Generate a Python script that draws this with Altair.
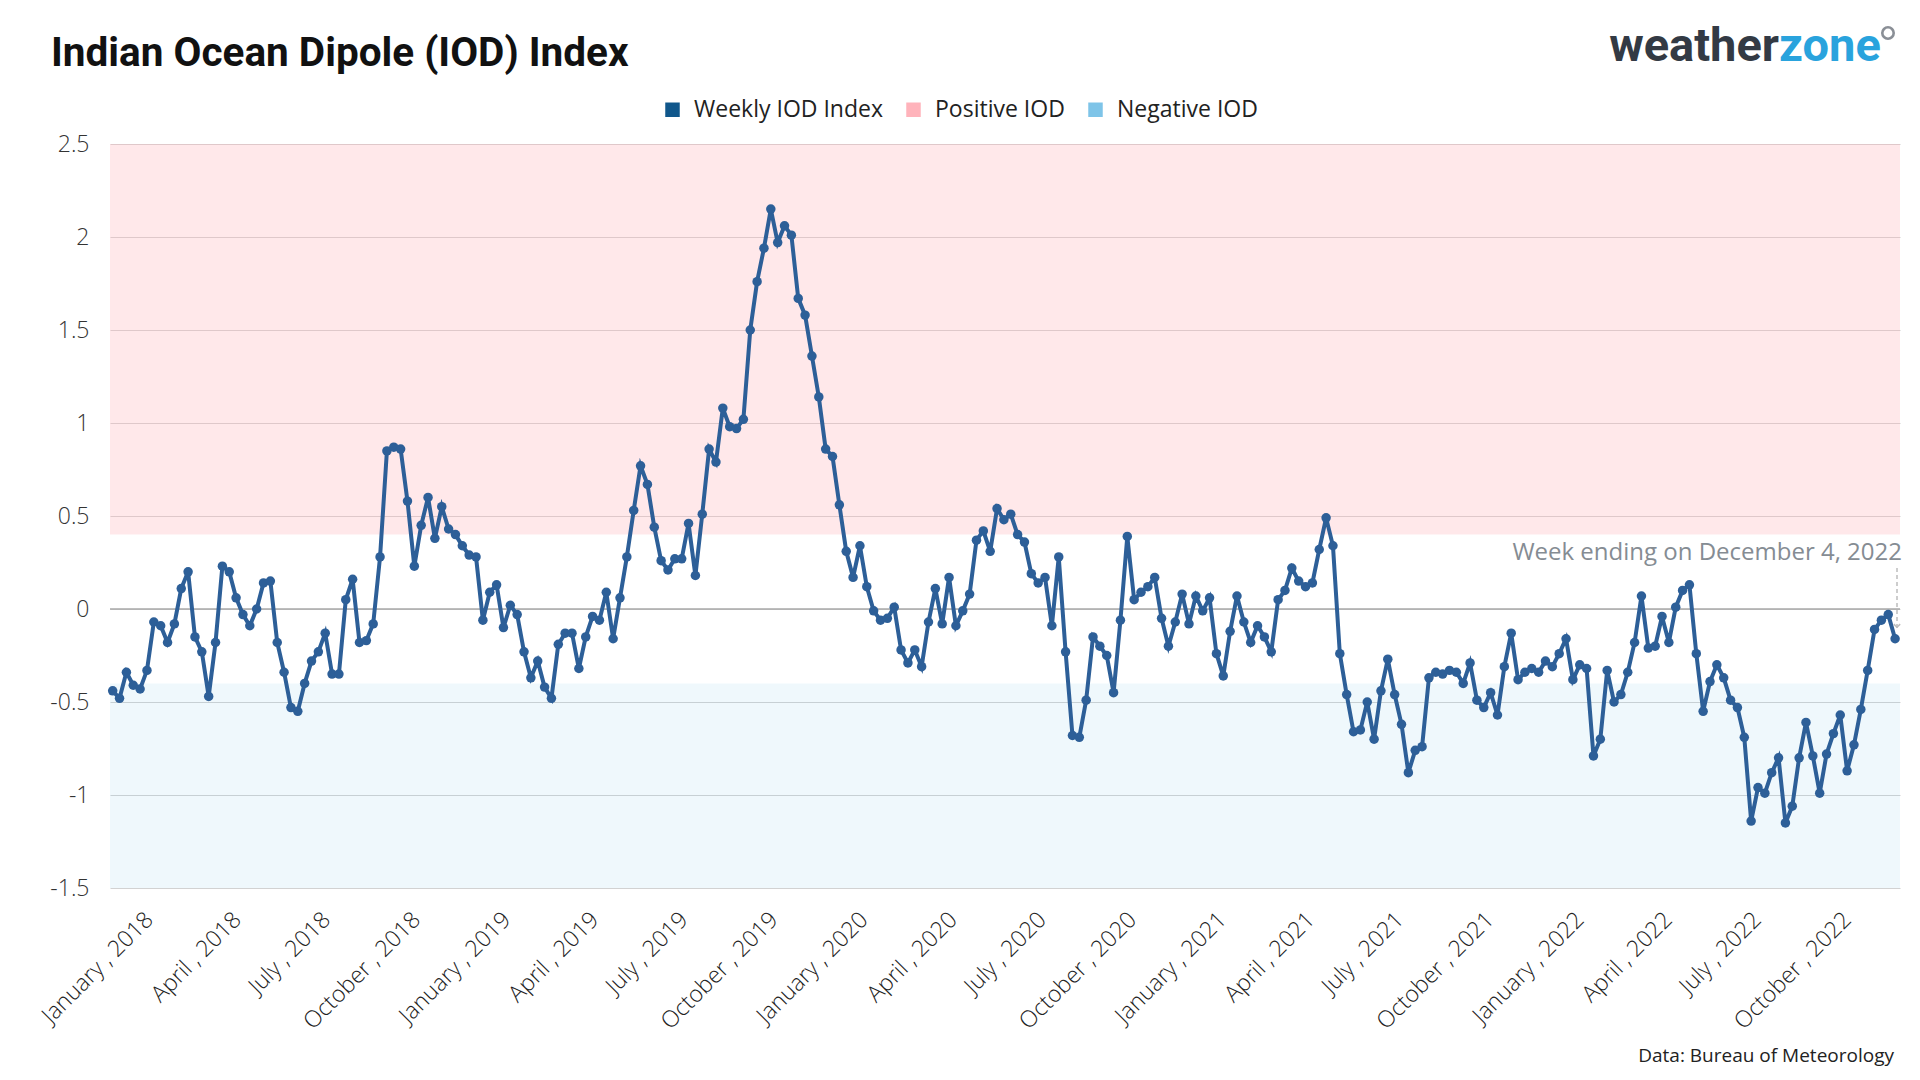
import altair as alt
import pandas as pd

# ---------------- data ----------------
FIRST_WEEK_ENDING = "2017-12-10"
iod_values = [
    -0.44, -0.48, -0.34, -0.41, -0.43, -0.33, -0.07, -0.09, -0.18, -0.08,
    0.11, 0.20, -0.15, -0.23, -0.47, -0.18, 0.23, 0.20, 0.06, -0.03,
    -0.09, 0.00, 0.14, 0.15, -0.18, -0.34, -0.53, -0.55, -0.40, -0.28,
    -0.23, -0.13, -0.35, -0.35, 0.05, 0.16, -0.18, -0.17, -0.08, 0.28,
    0.85, 0.87, 0.86, 0.58,
    0.23, 0.45, 0.60, 0.38, 0.55, 0.43, 0.40, 0.34, 0.29, 0.28,
    -0.06, 0.09, 0.13, -0.10, 0.02, -0.03, -0.23, -0.37, -0.28, -0.42,
    -0.48, -0.19, -0.13, -0.13, -0.32, -0.15, -0.04, -0.06, 0.09, -0.16,
    0.06, 0.28, 0.53, 0.77, 0.67, 0.44, 0.26, 0.21, 0.27, 0.27,
    0.46,
    0.18, 0.51, 0.86, 0.79, 1.08, 0.98, 0.97, 1.02, 1.50, 1.76,
    1.94, 2.15, 1.97, 2.06, 2.01, 1.67, 1.58, 1.36, 1.14, 0.86,
    0.82, 0.56, 0.31, 0.17, 0.34, 0.12, -0.01, -0.06,
    -0.05, 0.01, -0.22, -0.29, -0.22, -0.31, -0.07, 0.11, -0.08, 0.17,
    -0.09, -0.01, 0.08, 0.37, 0.42, 0.31, 0.54, 0.48, 0.51, 0.40,
    0.36, 0.19, 0.14, 0.17, -0.09, 0.28, -0.23, -0.68, -0.69, -0.49,
    -0.15, -0.20, -0.25, -0.45, -0.06, 0.39, 0.05, 0.09, 0.12, 0.17,
    -0.05, -0.20, -0.07, 0.08, -0.08, 0.07, -0.01, 0.06, -0.24, -0.36,
    -0.12,
    0.07, -0.07, -0.18, -0.09, -0.15, -0.23, 0.05, 0.10, 0.22, 0.15,
    0.12, 0.14, 0.32, 0.49, 0.34, -0.24, -0.46, -0.66, -0.65, -0.50,
    -0.70, -0.44, -0.27, -0.46, -0.62, -0.88, -0.76, -0.74, -0.37, -0.34,
    -0.35, -0.33, -0.34, -0.40, -0.29, -0.49, -0.53, -0.45, -0.57, -0.31,
    -0.13, -0.38, -0.34, -0.32, -0.34, -0.28, -0.31, -0.24, -0.16, -0.38,
    -0.30, -0.32, -0.79, -0.70,
    -0.33, -0.50, -0.46, -0.34, -0.18, 0.07, -0.21, -0.20, -0.04, -0.18,
    0.01, 0.10, 0.13, -0.24, -0.55, -0.39, -0.30, -0.37, -0.49, -0.53,
    -0.69, -1.14, -0.96, -0.99, -0.88, -0.80, -1.15, -1.06, -0.80, -0.61,
    -0.79, -0.99, -0.78, -0.67, -0.57, -0.87, -0.73, -0.54, -0.33, -0.11,
    -0.06, -0.03, -0.16,
]
week_ending = pd.date_range(FIRST_WEEK_ENDING, periods=len(iod_values), freq="7D")

zone_names = ["Positive IOD", "Negative IOD"]
zone_low = [0.4, -1.5]
zone_high = [2.5, -0.4]

legend_labels = ["Weekly IOD Index", "Positive IOD", "Negative IOD"]
legend_colors = ["#10578b", "#ffb3bb", "#7ec4e8"]

y_ticks = [-1.5, -1, -0.5, 0, 0.5, 1, 1.5, 2, 2.5]
tick_years = [2018, 2019, 2020, 2021, 2022]
tick_months = [1, 4, 7, 10]

title_text = "Indian Ocean Dipole (IOD) Index"
annotation_text = "Week ending on December 4, 2022"
source_text = "Data: Bureau of Meteorology"

# ---------------- chart ----------------
W, H = 1790, 744
LINE = "#2d5f98"
FONT = "Open Sans"

df = pd.DataFrame({"week": week_ending, "iod": iod_values})
zones = pd.DataFrame({"zone": zone_names, "lo": zone_low, "hi": zone_high})
one = pd.DataFrame({"k": [0]})

x_values = [alt.DateTime(year=y, month=m, date=1) for y in tick_years for m in tick_months]
x_scale = alt.Scale(domain=[alt.DateTime(year=2017, month=12, date=7, hours=6),
                            alt.DateTime(year=2022, month=12, date=9)])
y_scale = alt.Scale(domain=[-1.5, 2.5], nice=False, zero=False)

x_axis = alt.Axis(values=x_values, format="%B , %Y", labelAngle=-45, labelFont=FONT,
                  labelFontSize=23, labelFontWeight=300, labelColor="#222", ticks=False,
                  domain=False, grid=False, title=None, labelPadding=20, labelOffset=7,
                  labelOverlap=False, labelFlush=False)
y_axis = alt.Axis(values=y_ticks, labelExpr="datum.value + ''", labelFont=FONT,
                  labelFontSize=23, labelFontWeight=300, labelColor="#333", ticks=False,
                  domain=False, grid=True, gridColor="#d2d2d2", gridWidth=1.2,
                  title=None, labelPadding=21)

pos_band = alt.Chart(zones[zones.zone == "Positive IOD"]).mark_rect(
    color="#ffb3bb", opacity=0.3).encode(
    x=alt.value(0), x2=alt.value(W),
    y=alt.Y("lo:Q", scale=y_scale, axis=y_axis), y2="hi:Q")
neg_band = alt.Chart(zones[zones.zone == "Negative IOD"]).mark_rect(
    color="#7ec4e8", opacity=0.12).encode(
    x=alt.value(0), x2=alt.value(W), y=alt.Y("lo:Q"), y2="hi:Q")

zero_rule = alt.Chart(one).mark_rule(color="#a9a9a9", strokeWidth=1.6).encode(
    y=alt.datum(0))

line = alt.Chart(df).mark_line(
    color=LINE, strokeWidth=4,
    point=alt.OverlayMarkDef(filled=True, size=90, color=LINE, opacity=1)).encode(
    x=alt.X("week:T", scale=x_scale, axis=x_axis),
    y=alt.Y("iod:Q"))

legend_df = pd.DataFrame({"series": legend_labels})
legend_layer = alt.Chart(legend_df).mark_point(shape="square", filled=True, size=0, opacity=0).encode(
    x=alt.value(0), y=alt.value(0),
    color=alt.Color("series:N", scale=alt.Scale(domain=legend_labels, range=legend_colors),
                    legend=alt.Legend(orient="none", legendX=551, legendY=-46, direction="horizontal",
                                      title=None, symbolType="square", symbolSize=210,
                                      symbolOpacity=1, symbolStrokeWidth=0,
                                      labelFont=FONT, labelFontSize=23, labelColor="#222",
                                      labelLimit=400, labelOffset=10, columnPadding=19)))

title_layer = alt.Chart(one).mark_text(
    text=title_text, font="Roboto", fontWeight="bold", fontSize=40.5,
    align="left", baseline="alphabetic", color="#111").encode(
    x=alt.value(-59), y=alt.value(-78))

logo_a = alt.Chart(one).mark_text(
    text="weather", font="Roboto", fontWeight="bold", fontSize=47,
    align="right", baseline="alphabetic", color="#333a44").encode(
    x=alt.value(1669), y=alt.value(-83))
logo_b = alt.Chart(one).mark_text(
    text="zone", font="Roboto", fontWeight="bold", fontSize=47,
    align="left", baseline="alphabetic", color="#29a3dd").encode(
    x=alt.value(1669), y=alt.value(-83))
logo_deg = alt.Chart(one).mark_point(
    shape="circle", filled=False, size=130, strokeWidth=2.6, color="#8a8f96", opacity=1).encode(
    x=alt.value(1778), y=alt.value(-111))

annot = alt.Chart(one).mark_text(
    text=annotation_text, font=FONT, fontSize=24, align="right", baseline="alphabetic",
    color="#858c93").encode(x=alt.value(1792), y=alt.value(416))
annot_rule = alt.Chart(one).mark_rule(
    color="#bdbdbd", strokeWidth=1.5, strokeDash=[4, 3]).encode(
    x=alt.value(1787), y=alt.value(424), y2=alt.value(484))
annot_arrow = alt.Chart(one).mark_point(
    shape="M-1,-0.6L0,0.4L1,-0.6", filled=False, size=40, strokeWidth=1.5,
    color="#bdbdbd", opacity=1).encode(x=alt.value(1787), y=alt.value(482))

source = alt.Chart(one).mark_text(
    text=source_text, font=FONT, fontSize=19, align="right", baseline="alphabetic",
    color="#222").encode(x=alt.value(1784), y=alt.value(918))

chart = alt.layer(
    pos_band, neg_band, zero_rule, line, legend_layer,
    title_layer, logo_a, logo_b, logo_deg, annot, annot_rule, annot_arrow, source
).properties(
    width=W, height=H,
    autosize=alt.AutoSizeParams(type="none"),
    padding={"left": 102, "top": 136, "right": 10, "bottom": 180},
    background="white",
).configure_view(stroke=None)

chart.save("out.html", embed_options={"renderer": "svg", "actions": False})
